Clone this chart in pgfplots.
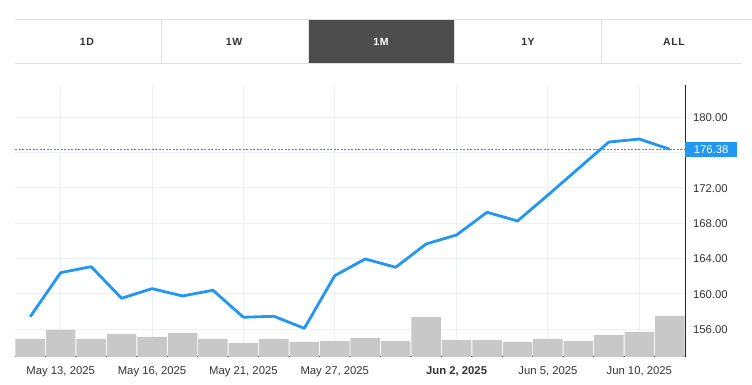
\documentclass[border=0pt]{standalone}
\usepackage{pgfplots}
\usepackage{pgfplotstable}
\pgfplotsset{compat=1.18}
\usepackage{fontspec}
\setmainfont{Liberation Sans}
\definecolor{tvblue}{HTML}{2196F3}
\definecolor{gridc}{HTML}{EEF0F7}
\definecolor{volc}{HTML}{C8C8C8}
\definecolor{txt}{HTML}{333333}
\definecolor{btnsel}{HTML}{4D4D4D}
\definecolor{btnline}{HTML}{E0E0E0}

% idx 0 = May 12, 2025 ... idx 21 = Jun 11, 2025 (trading days)
\pgfplotstableread{
idx price vol
0  157.43 18
1  162.41 27
2  163.09 18
3  159.51 23
4  160.60 20
5  159.77 24
6  160.42 18
7  157.36 14
8  157.47 18
9  156.11 15
10 162.07 16
11 163.96 19
12 163.02 16
13 165.66 40
14 166.68 17
15 169.25 17
16 168.26 15
17 171.20 18
18 174.20 16
19 177.20 22
20 177.54 25
21 176.38 41
}\pricedata

\pgfplotsset{
  base/.style={
    at={(15pt,28pt)}, anchor=south west,
    width=670pt, height=272pt, scale only axis,
    xmin=-0.5, xmax=21.5,
  },
}

\begin{document}
\begin{tikzpicture}[x=1pt,y=1pt]
\path[use as bounding box] (0,0) rectangle (752,385);
% range buttons
\fill[btnsel] (308,321) rectangle (454,365);
\draw[btnline, line width=1pt] (15,365) -- (752,365);
\draw[btnline, line width=1pt] (15,321) -- (742,321);
\foreach \x in {161,308,454,601} \draw[btnline, line width=1pt] (\x,321) -- (\x,365);
\begin{scope}[every node/.style={font=\fontsize{10.5}{12}\selectfont\bfseries\addfontfeatures{LetterSpace=6}, text=txt}]
\node at (87,343) {1D};
\node at (234,343) {1W};
\node[text=white] at (381,343) {1M};
\node at (528,343) {1Y};
\node at (674,343) {ALL};
\end{scope}

% axis frame, grid and ticks
\begin{axis}[base,
  ymin=152.86, ymax=183.66,
  axis x line*=bottom, axis y line*=right,
  axis line style={-, draw=black!85, line width=1pt},
  xtick={1,4,7,10,14,17,20},
  xticklabels={{May 13, 2025},{May 16, 2025},{May 21, 2025},{May 27, 2025},{\bfseries Jun 2, 2025},{Jun 5, 2025},{Jun 10, 2025}},
  ytick={156,160,164,168,172,176,180},
  yticklabels={156.00,160.00,164.00,168.00,172.00,,180.00},
  yticklabel pos=right,
  grid=major,
  major grid style={draw=gridc, line width=1pt},
  major tick length=0pt,
  tick style={draw=none},
  tick label style={font=\fontsize{11.3}{13}\selectfont, text=txt},
  typeset ticklabels with strut,
  xticklabel style={yshift=-4.5pt},
  yticklabel style={xshift=4.5pt, yshift=-1.5pt},
]
\end{axis}

% volume bars
\begin{axis}[base, ymin=0, ymax=272, hide axis, ybar, bar width=29.5pt]
\addplot[fill=volc, draw=none] table[x=idx, y=vol] {\pricedata};
\end{axis}

% price line
\begin{axis}[base, ymin=152.86, ymax=183.66, hide axis, clip=false]
\addplot[tvblue, line width=1pt, dash pattern=on 2pt off 1.5pt] coordinates {(-0.5,176.38) (21.5,176.38)};
\addplot[tvblue, line width=2.8pt, line join=round] table[x=idx, y=price] {\pricedata};
\node[fill=tvblue, text=white, anchor=west, minimum width=51.7pt, minimum height=15.5pt, inner sep=0pt, font=\fontsize{11.3}{13}\selectfont] at (axis cs:21.5,176.38) {176.38};
\end{axis}
\end{tikzpicture}
\end{document}
